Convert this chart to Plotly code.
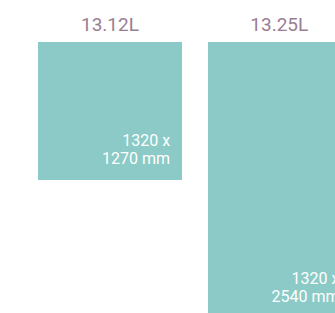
import plotly.graph_objects as go

# Data
models = ["13.12L", "13.25L"]
widths_mm = [1320, 1320]
lengths_mm = [1270, 2540]

GAP_MM = 240
centers = []
pos = 0
for w in widths_mm:
    centers.append(pos + w / 2)
    pos += w + GAP_MM

TEAL = "#8BCAC6"
MAUVE = "#9A7D94"
FONT = "Roboto"

FIG_W = 370  # wider than the window so the second box runs past the right edge
s = 0.10856  # px per mm
x_left = -38.3 / s
x_right = x_left + FIG_W / s
y_bottom = 271 / s

fig = go.Figure()
fig.add_trace(go.Bar(
    x=centers, y=lengths_mm, width=widths_mm, base=0,
    marker=dict(color=TEAL, line=dict(width=0)),
    hoverinfo="skip", showlegend=False,
))

pad_x = 11.5 / s
pad_y = 20 / s
line_gap = 17.6 / s
rights = [c + w / 2 - pad_x for c, w in zip(centers, widths_mm)]
line2_y = [l - pad_y for l in lengths_mm]
line1_y = [y - line_gap for y in line2_y]

fig.add_trace(go.Scatter(
    x=rights, y=line1_y, mode="text",
    text=[f"{w} x" for w in widths_mm], textposition="middle left",
    textfont=dict(color="white", size=16, family=FONT),
    cliponaxis=False, hoverinfo="skip", showlegend=False,
))
fig.add_trace(go.Scatter(
    x=rights, y=line2_y, mode="text",
    text=[f"{l} mm" for l in lengths_mm], textposition="middle left",
    textfont=dict(color="white", size=16, family=FONT),
    cliponaxis=False, hoverinfo="skip", showlegend=False,
))

fig.update_layout(
    width=FIG_W, height=313,
    margin=dict(l=0, r=0, t=42, b=0),
    paper_bgcolor="white", plot_bgcolor="white",
    bargap=0,
    xaxis=dict(range=[x_left, x_right], side="top", tickvals=centers, ticktext=models,
               tickfont=dict(color=MAUVE, size=19, family=FONT), ticks="",
               ticklabelstandoff=6,
               showgrid=False, zeroline=False, showline=False, fixedrange=True),
    yaxis=dict(range=[y_bottom, 0], showticklabels=False, showgrid=False,
               zeroline=False, showline=False, fixedrange=True),
)

fig.write_html(
    "out.html",
    config={"displayModeBar": False},
    post_script="document.body.style.margin='0';document.body.style.overflow='hidden';",
)
